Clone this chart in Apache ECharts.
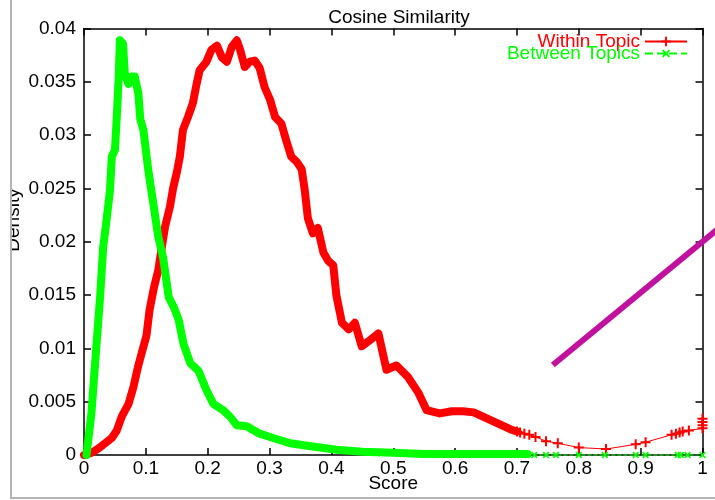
<!DOCTYPE html>
<html>
<head>
<meta charset="utf-8">
<script src="https://cdn.jsdelivr.net/npm/echarts@6/dist/echarts.min.js"></script>
<style>html,body{margin:0;padding:0;background:#fff}#c{width:715px;height:500px}</style>
</head>
<body>
<div id="c"></div>
<script>
// ---- data ----
const titleText = 'Cosine Similarity';
const xName = 'Score';
const yName = 'Density';
const seriesNames = ['Within Topic', 'Between Topics'];

const withinDenseX = [0, 0.012, 0.023, 0.034, 0.045, 0.053, 0.061, 0.072, 0.080, 0.087, 0.093, 0.101, 0.106, 0.113, 0.120, 0.125, 0.131, 0.139, 0.144, 0.150, 0.155, 0.160, 0.168, 0.176, 0.182, 0.187, 0.198, 0.206, 0.215, 0.223, 0.231, 0.239, 0.247, 0.252, 0.260, 0.268, 0.276, 0.284, 0.292, 0.301, 0.309, 0.319, 0.327, 0.335, 0.344, 0.352, 0.357, 0.362, 0.370, 0.378, 0.387, 0.395, 0.403, 0.408, 0.417, 0.428, 0.438, 0.449, 0.463, 0.476, 0.489, 0.505, 0.524, 0.541, 0.554, 0.575, 0.595, 0.613, 0.630, 0.645, 0.660, 0.675, 0.690, 0.700];
const withinDenseY = [0, 0.0002, 0.0006, 0.0011, 0.0016, 0.0023, 0.0036, 0.0048, 0.0064, 0.0082, 0.0095, 0.0112, 0.0136, 0.0157, 0.0173, 0.0192, 0.0214, 0.0233, 0.0250, 0.0265, 0.0280, 0.0305, 0.0317, 0.0330, 0.0348, 0.0361, 0.0369, 0.0380, 0.0384, 0.0373, 0.0369, 0.0383, 0.0389, 0.0381, 0.0364, 0.0369, 0.0370, 0.0363, 0.0345, 0.0333, 0.0317, 0.0311, 0.0295, 0.0280, 0.0275, 0.0268, 0.0248, 0.0222, 0.0208, 0.0213, 0.0190, 0.0182, 0.0178, 0.0150, 0.0124, 0.0118, 0.0124, 0.0102, 0.0108, 0.0114, 0.0080, 0.0084, 0.0073, 0.0058, 0.0042, 0.0039, 0.0041, 0.0041, 0.0040, 0.0036, 0.0032, 0.0028, 0.0024, 0.0022];

const withinSparseX = [0.700, 0.705, 0.712, 0.720, 0.730, 0.747, 0.766, 0.800, 0.844, 0.892, 0.908, 0.950, 0.957, 0.963, 0.968, 0.978, 1.0, 1.0, 1.0, 1.0];
const withinSparseY = [0.0022, 0.0021, 0.0020, 0.0019, 0.0017, 0.0013, 0.0011, 0.0007, 0.00056, 0.0010, 0.0012, 0.0019, 0.0020, 0.0021, 0.0022, 0.0023, 0.0025, 0.0028, 0.0031, 0.0034];

const betweenDenseX = [0.004, 0.012, 0.020, 0.026, 0.031, 0.037, 0.042, 0.045, 0.050, 0.053, 0.056, 0.058, 0.063, 0.066, 0.072, 0.077, 0.082, 0.088, 0.091, 0.096, 0.104, 0.112, 0.120, 0.128, 0.137, 0.145, 0.153, 0.161, 0.172, 0.185, 0.198, 0.209, 0.225, 0.236, 0.247, 0.263, 0.284, 0.306, 0.333, 0.370, 0.408, 0.45, 0.5, 0.55, 0.6, 0.65, 0.7, 0.717];
const betweenDenseY = [0, 0.0039, 0.0102, 0.0148, 0.0195, 0.0223, 0.0248, 0.0280, 0.0286, 0.0317, 0.0352, 0.0389, 0.0386, 0.0358, 0.0348, 0.0355, 0.0355, 0.0339, 0.0315, 0.0305, 0.0267, 0.0236, 0.0205, 0.0185, 0.0148, 0.0139, 0.0127, 0.0104, 0.0086, 0.0079, 0.0061, 0.0048, 0.0042, 0.0036, 0.0028, 0.0027, 0.0020, 0.0016, 0.0011, 0.0008, 0.0005, 0.0003, 0.0002, 0.0001, 0.0001, 0.0001, 0.0001, 0.0001];

const betweenSparseX = [0.717, 0.728, 0.747, 0.763, 0.800, 0.842, 0.892, 0.908, 0.960, 0.965, 0.976, 1.0];
const betweenSparseY = [0, 0, 0, 0, 0, 0, 0, 0, 0, 0, 0, 0];

// overlay stroke (annotation) in data units
const overlayX = [0.758, 1.05];
const overlayY = [0.00844, 0.0224];

const xMin = 0, xMax = 1, xStep = 0.1;
const yMin = 0, yMax = 0.04, yStep = 0.005;

// ---- build ----
const zip = (a, b) => a.map((v, i) => [v, b[i]]);
const FONT = "'Liberation Sans', Arial, sans-serif";
const RED = '#ff0000', GREEN = '#00ff00';
const PLUS = 'path://M0,4L10,4L10,6L0,6Z M4,0L6,0L6,10L4,10Z';

const chart = echarts.init(document.getElementById('c'), null, {renderer: 'canvas'});
const axisLineStyle = {color: '#000', width: 1.5};
const tick = {show: true, inside: true, length: 7, lineStyle: {color: '#000', width: 1.5}};
chart.setOption({
  animation: false,
  backgroundColor: '#fff',
  textStyle: {fontFamily: FONT},
  title: {
    text: titleText, left: 394, top: 3, textAlign: 'center',
    textStyle: {fontFamily: FONT, fontSize: 19, fontWeight: 'normal', color: '#000'}
  },
  legend: {
    orient: 'vertical', align: 'right', right: 22, top: 27,
    itemWidth: 42, itemHeight: 12, itemGap: -7,
    textStyle: {fontFamily: FONT, fontSize: 19, lineHeight: 19},
    data: [
      {name: seriesNames[0], textStyle: {color: RED}},
      {name: seriesNames[1], textStyle: {color: GREEN}}
    ],
    selectedMode: false
  },
  grid: {left: 84, right: 12.5, top: 28.6, bottom: 45, outerBoundsMode: 'none', containLabel: false},
  xAxis: [{
    type: 'value', min: xMin, max: xMax, interval: xStep, position: 'bottom',
    name: xName, nameLocation: 'middle', nameGap: 19, nameMoveOverlap: false,
    nameTextStyle: {fontFamily: FONT, fontSize: 19, color: '#000'},
    axisLine: {show: true, onZero: false, lineStyle: axisLineStyle},
    axisTick: tick,
    axisLabel: {margin: 4, fontFamily: FONT, fontSize: 19, color: '#000', formatter: v => String(+v.toFixed(1))},
    splitLine: {show: false}
  }, {
    type: 'value', min: xMin, max: xMax, interval: xStep, position: 'top',
    axisLine: {show: true, onZero: false, lineStyle: axisLineStyle},
    axisTick: tick,
    axisLabel: {show: false}, splitLine: {show: false}
  }],
  yAxis: [{
    type: 'value', min: yMin, max: yMax, interval: yStep, position: 'left',
    axisLine: {show: true, onZero: false, lineStyle: axisLineStyle},
    axisTick: tick,
    axisLabel: {margin: 8, fontFamily: FONT, fontSize: 19, color: '#000', formatter: v => String(+v.toFixed(3))},
    splitLine: {show: false}
  }, {
    type: 'value', min: yMin, max: yMax, interval: yStep, position: 'right',
    axisLine: {show: true, onZero: false, lineStyle: axisLineStyle},
    axisTick: tick,
    axisLabel: {show: false}, splitLine: {show: false}
  }],
  series: [
    {
      name: 'Within Topic dense', type: 'line', data: zip(withinDenseX, withinDenseY),
      showSymbol: false, symbol: 'none', clip: false, z: 3,
      lineStyle: {color: RED, width: 8, join: 'round', cap: 'round'}, itemStyle: {color: RED}
    },
    {
      name: seriesNames[0], type: 'line', data: zip(withinSparseX, withinSparseY),
      symbol: PLUS, symbolSize: 10, showSymbol: true, clip: false, z: 3,
      lineStyle: {color: RED, width: 1}, itemStyle: {color: RED}
    },
    {
      name: 'Between Topics dense', type: 'line', data: zip(betweenDenseX, betweenDenseY),
      showSymbol: false, symbol: 'none', clip: false, z: 4,
      lineStyle: {color: GREEN, width: 8, join: 'round', cap: 'round'}, itemStyle: {color: GREEN}
    },
    {
      name: seriesNames[1], type: 'line', data: zip(betweenSparseX, betweenSparseY),
      symbol: PLUS, symbolSize: 8, symbolRotate: 45, showSymbol: true, clip: false, z: 4,
      lineStyle: {color: GREEN, width: 1, type: 'dashed'}, itemStyle: {color: GREEN}
    }
  ],
  graphic: [
    {type: 'text', z: 50, rotation: Math.PI / 2, x: 14, y: 220,
     style: {text: yName, fill: '#000', font: "19px 'Liberation Sans', Arial, sans-serif", textAlign: 'center', textVerticalAlign: 'middle'}},
    {type: 'rect', z: 60, shape: {x: 0, y: 0, width: 10, height: 500}, style: {fill: '#fff'}},
    {type: 'line', z: 61, shape: {x1: 11, y1: 0, x2: 11, y2: 499}, style: {stroke: '#b4b4b4', lineWidth: 2}},
    {type: 'line', z: 61, shape: {x1: 10, y1: 498, x2: 715, y2: 498}, style: {stroke: '#b4b4b4', lineWidth: 2}}
  ]
});

// annotation stroke placed through the chart's own scales (extends past the plot frame)
const p0 = chart.convertToPixel({xAxisIndex: 0, yAxisIndex: 0}, [overlayX[0], overlayY[0]]);
const p1 = chart.convertToPixel({xAxisIndex: 0, yAxisIndex: 0}, [overlayX[1], overlayY[1]]);
chart.setOption({
  graphic: [{
    id: 'overlay', type: 'line', z: 40,
    shape: {x1: p0[0], y1: p0[1], x2: p1[0], y2: p1[1]},
    style: {stroke: '#c0129e', lineWidth: 6, lineCap: 'butt'}
  }]
});
</script>
</body>
</html>
